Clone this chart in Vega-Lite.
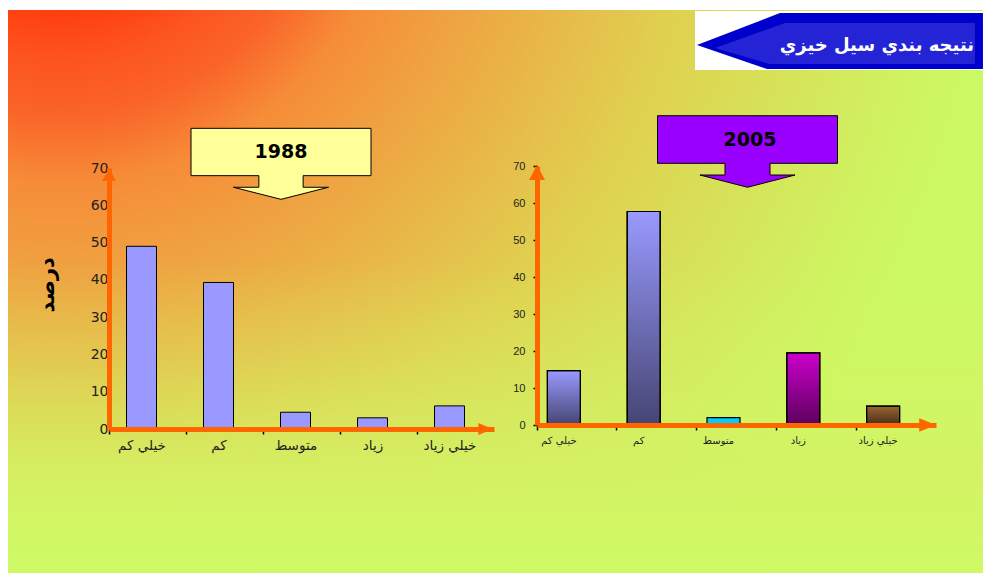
{
  "$schema": "https://vega.github.io/schema/vega-lite/v6.json",
  "width": 975,
  "height": 563,
  "autosize": "none",
  "padding": {"left": 8, "top": 10, "right": 0, "bottom": 0},
  "background": "#ffffff",
  "config": {"view": {"stroke": null}, "axis": {"grid": false, "zindex": 1}},
  "resolve": {"scale": {"x": "independent", "y": "independent", "color": "independent"}},
  "layer": [
    {
      "data": {"values": [{}]},
      "mark": {"type": "rect", "color": {"gradient": "radial", "x1": 0.0533, "y1": 0.0472, "r1": 0, "x2": 0.0533, "y2": 0.0472, "r2": 0.985,
        "stops": [
          {"offset": 0, "color": "#FF3808"},
          {"offset": 0.16, "color": "#FF3C0C"},
          {"offset": 0.22, "color": "#FD5420"},
          {"offset": 0.276, "color": "#FA6428"},
          {"offset": 0.347, "color": "#F68C38"},
          {"offset": 0.43, "color": "#F0A040"},
          {"offset": 0.54, "color": "#E8B848"},
          {"offset": 0.655, "color": "#E0D050"},
          {"offset": 0.77, "color": "#D8E058"},
          {"offset": 0.891, "color": "#D0F060"},
          {"offset": 0.984, "color": "#CCFA64"},
          {"offset": 1, "color": "#CCFA64"}
        ]}},
      "encoding": {}
    },
    {
      "data": {"values": [{}]},
      "mark": {"type": "rect", "color": {"gradient": "linear", "x1": 0, "y1": 0, "x2": 0, "y2": 1,
        "stops": [
          {"offset": 0, "color": "rgba(212,242,100,0)"},
          {"offset": 0.45, "color": "rgba(212,242,100,0)"},
          {"offset": 0.62, "color": "rgba(212,242,100,0.3)"},
          {"offset": 0.75, "color": "rgba(212,242,100,0.65)"},
          {"offset": 0.82, "color": "rgba(212,242,100,0.9)"},
          {"offset": 0.906, "color": "rgba(210,246,100,1)"},
          {"offset": 1, "color": "rgba(206,250,102,1)"}
        ]}},
      "encoding": {}
    },
    {
      "data": {"values": [
        {"cat": "خيلي كم", "v": 49},
        {"cat": "كم", "v": 39.3},
        {"cat": "متوسط", "v": 4.5},
        {"cat": "زياد", "v": 3},
        {"cat": "خيلي زياد", "v": 6.2}
      ]},
      "layer": [
        {
          "mark": {"type": "bar", "width": 30, "xOffset": -6, "fill": "#9999FF", "stroke": "#000000", "strokeWidth": 1},
          "encoding": {
            "x": {"field": "cat", "type": "nominal", "sort": null,
              "scale": {"range": [101, 486], "paddingInner": 0, "paddingOuter": 0},
              "axis": {"orient": "bottom", "offset": -144, "title": null, "domainColor": "#FF6600", "domainWidth": 5,
                "ticks": true, "tickColor": "#000000", "tickSize": 5, "tickWidth": 1.5, "bandPosition": 0,
                "labelOffset": -5.5, "labelPadding": 4, "labelAngle": 0, "labelOverlap": false,
                "labelFont": "DejaVu Sans", "labelFontSize": 13.5, "labelColor": "#222222", "zindex": 1}},
            "y": {"field": "v", "type": "quantitative",
              "scale": {"domain": [0, 70], "range": [419, 158], "nice": false},
              "axis": {"orient": "left", "offset": -101, "title": null, "values": [0, 10, 20, 30, 40, 50, 60, 70],
                "domainColor": "#FF6600", "domainWidth": 5, "ticks": false, "labelPadding": 1,
                "labelFont": "DejaVu Sans", "labelFontSize": 14, "labelColor": "#222222", "zindex": 1}}
          }
        },
        {
          "data": {"values": [{}]},
          "mark": {"type": "point", "shape": "M0,-1L1,0.86L-1,0.86Z", "size": 196, "filled": true, "fill": "#FF6600", "opacity": 1, "strokeWidth": 0, "xOffset": -38.5, "yOffset": 7},
          "encoding": {"x": {"datum": "خيلي كم", "type": "nominal"}, "y": {"datum": 70, "type": "quantitative"}}
        },
        {
          "data": {"values": [{}]},
          "mark": {"type": "point", "shape": "M1,0L-1.1,-0.85L-1.1,0.85Z", "size": 196, "filled": true, "fill": "#FF6600", "opacity": 1, "strokeWidth": 0, "xOffset": 30.5},
          "encoding": {"x": {"datum": "خيلي زياد", "type": "nominal"}, "y": {"datum": 0, "type": "quantitative"}}
        },
        {
          "data": {"values": [{}]},
          "mark": {"type": "point", "shape": "M-1,-0.352L1,-0.352L1,0.174L0.246,0.174L0.246,0.303L0.528,0.303L0,0.437L-0.528,0.303L-0.246,0.303L-0.246,0.174L-1,0.174Z",
            "size": 32400, "filled": true, "fill": "#FFFF99", "stroke": "#000000", "strokeWidth": 1, "opacity": 1, "xOffset": -20.5, "yOffset": -8},
          "encoding": {"x": {"datum": "متوسط", "type": "nominal"}, "y": {"datum": 70, "type": "quantitative"}}
        },
        {
          "data": {"values": [{"t": "1988"}]},
          "mark": {"type": "text", "font": "DejaVu Sans", "fontWeight": "bold", "fontSize": 19, "color": "#000000", "baseline": "middle", "align": "center", "xOffset": -20.5, "yOffset": -16},
          "encoding": {"x": {"datum": "متوسط", "type": "nominal"}, "y": {"datum": 70, "type": "quantitative"}, "text": {"field": "t"}}
        },
        {
          "data": {"values": [{"t": "درصد"}]},
          "mark": {"type": "text", "font": "DejaVu Sans", "fontWeight": "bold", "fontSize": 21, "color": "#000000", "baseline": "middle", "align": "center", "angle": 270, "xOffset": -99.5, "yOffset": 5},
          "encoding": {"x": {"datum": "خيلي كم", "type": "nominal"}, "y": {"datum": 40, "type": "quantitative"}, "text": {"field": "t"}}
        }
      ]
    },
    {
      "data": {"values": [
        {"cat": "خيلي كم", "v": 14.7},
        {"cat": "كم", "v": 57.7},
        {"cat": "متوسط", "v": 2},
        {"cat": "زياد", "v": 19.5},
        {"cat": "خيلي زياد", "v": 5.1}
      ]},
      "layer": [
        {
          "mark": {"type": "bar", "width": 33, "xOffset": -13, "stroke": "#000000", "strokeWidth": 1.2, "opacity": 1},
          "encoding": {
            "x": {"field": "cat", "type": "nominal", "sort": null,
              "scale": {"range": [529, 928], "paddingInner": 0, "paddingOuter": 0},
              "axis": {"orient": "bottom", "offset": -148, "title": null, "domainColor": "#FF6600", "domainWidth": 5,
                "ticks": true, "tickColor": "#000000", "tickSize": 5, "tickWidth": 1.5, "bandPosition": 0,
                "labelOffset": -18, "labelPadding": 5, "labelAngle": 0, "labelOverlap": false,
                "labelFont": "DejaVu Sans", "labelFontSize": 10, "labelColor": "#222222", "zindex": 1}},
            "y": {"field": "v", "type": "quantitative",
              "scale": {"domain": [0, 70], "range": [415, 156], "nice": false},
              "axis": {"orient": "left", "offset": -529, "title": null, "values": [0, 10, 20, 30, 40, 50, 60, 70],
                "domainColor": "#FF6600", "domainWidth": 5, "ticks": true, "tickColor": "#000000", "tickSize": 4, "tickWidth": 1.5,
                "labelPadding": 8, "labelFont": "Liberation Sans", "labelFontSize": 11, "labelColor": "#222222", "zindex": 1}},
            "color": {"field": "cat", "type": "nominal", "legend": null,
              "scale": {"domain": ["خيلي كم", "كم", "متوسط", "زياد", "خيلي زياد"], "range": ["#9999FF", "#9999FF", "#00CCFF", "#CC00CC", "#996633"]}}
          }
        },
        {
          "transform": [{"filter": "datum.cat != 'متوسط'"}],
          "mark": {"type": "bar", "width": 33, "xOffset": -13, "stroke": "#000000", "strokeWidth": 1.2,
            "color": {"gradient": "linear", "x1": 0, "y1": 0, "x2": 0, "y2": 1,
              "stops": [{"offset": 0, "color": "rgba(0,0,0,0)"}, {"offset": 1, "color": "rgba(0,0,0,0.55)"}]}},
          "encoding": {
            "x": {"field": "cat", "type": "nominal", "sort": null},
            "y": {"field": "v", "type": "quantitative"}
          }
        },
        {
          "data": {"values": [{}]},
          "mark": {"type": "point", "shape": "M0,-1L1,0.86L-1,0.86Z", "size": 256, "filled": true, "fill": "#FF6600", "opacity": 1, "strokeWidth": 0, "xOffset": -39.9, "yOffset": 7},
          "encoding": {"x": {"datum": "خيلي كم", "type": "nominal"}, "y": {"datum": 70, "type": "quantitative"}}
        },
        {
          "data": {"values": [{}]},
          "mark": {"type": "point", "shape": "M1,0L-1.1,-0.85L-1.1,0.85Z", "size": 256, "filled": true, "fill": "#FF6600", "opacity": 1, "strokeWidth": 0, "xOffset": 31.9},
          "encoding": {"x": {"datum": "خيلي زياد", "type": "nominal"}, "y": {"datum": 0, "type": "quantitative"}}
        },
        {
          "data": {"values": [{}]},
          "mark": {"type": "point", "shape": "M-1,-0.381L1,-0.381L1,0.148L0.25,0.148L0.25,0.278L0.528,0.278L0,0.414L-0.528,0.278L-0.25,0.278L-0.25,0.148L-1,0.148Z",
            "size": 32400, "filled": true, "fill": "#9900FF", "stroke": "#000000", "strokeWidth": 1, "opacity": 1, "xOffset": 11, "yOffset": -16},
          "encoding": {"x": {"datum": "متوسط", "type": "nominal"}, "y": {"datum": 70, "type": "quantitative"}}
        },
        {
          "data": {"values": [{"t": "2005"}]},
          "mark": {"type": "text", "font": "DejaVu Sans", "fontWeight": "bold", "fontSize": 19, "color": "#000000", "baseline": "middle", "align": "center", "xOffset": 13.5, "yOffset": -26.5},
          "encoding": {"x": {"datum": "متوسط", "type": "nominal"}, "y": {"datum": 70, "type": "quantitative"}, "text": {"field": "t"}}
        }
      ]
    },
    {
      "data": {"values": [{"t": "نتيجه بندي سيل خيزي"}]},
      "layer": [
        {
          "mark": {"type": "point", "shape": "M-1,-0.205L1,-0.205L1,0.205L-1,0.205Z", "size": 82944, "filled": true, "fill": "#FFFFFF", "opacity": 1, "strokeWidth": 0},
          "encoding": {"x": {"datum": 0.8523, "type": "quantitative", "scale": {"domain": [0, 1]}, "axis": null}, "y": {"datum": 0.9458, "type": "quantitative", "scale": {"domain": [0, 1]}, "axis": null}}
        },
        {
          "mark": {"type": "point", "shape": "M1,-0.196L-0.42,-0.196L-1,0.028L-0.51,0.196L1,0.196Z", "size": 81796, "filled": true, "fill": "#0000CC", "opacity": 1, "strokeWidth": 0},
          "encoding": {"x": {"datum": 0.8533, "type": "quantitative", "scale": {"domain": [0, 1]}, "axis": null}, "y": {"datum": 0.9449, "type": "quantitative", "scale": {"domain": [0, 1]}, "axis": null}}
        },
        {
          "mark": {"type": "point", "shape": "M0.944,-0.126L-0.385,-0.126L-0.874,0.049L-0.49,0.161L0.944,0.161Z", "size": 81796, "filled": true, "fill": "#2424D6", "opacity": 1, "strokeWidth": 0},
          "encoding": {"x": {"datum": 0.8533, "type": "quantitative", "scale": {"domain": [0, 1]}, "axis": null}, "y": {"datum": 0.9449, "type": "quantitative", "scale": {"domain": [0, 1]}, "axis": null}}
        },
        {
          "mark": {"type": "text", "font": "DejaVu Sans", "fontWeight": "bold", "fontSize": 18, "color": "#FFFFFF", "align": "right", "baseline": "middle"},
          "encoding": {"x": {"datum": 0.9908, "type": "quantitative", "scale": {"domain": [0, 1]}, "axis": null}, "y": {"datum": 0.936, "type": "quantitative", "scale": {"domain": [0, 1]}, "axis": null}, "text": {"field": "t"}}
        }
      ]
    }
  ]
}
